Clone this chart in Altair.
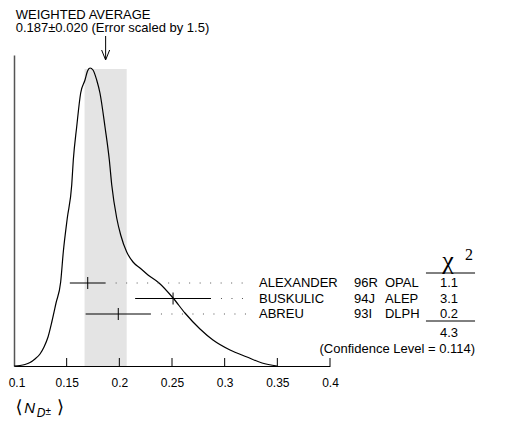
import altair as alt
import pandas as pd

# ---------------- data ----------------
avg_value = 0.187
avg_error = 0.020
title_lines = ["WEIGHTED AVERAGE", "0.187\u00b10.020 (Error scaled by 1.5)"]

names = ["ALEXANDER", "BUSKULIC", "ABREU"]
codes = ["96R", "94J", "93I"]
expts = ["OPAL", "ALEP", "DLPH"]
values = [0.170, 0.251, 0.199]
errors = [0.017, 0.036, 0.031]
chi2 = ["1.1", "3.1", "0.2"]
chi2_total = "4.3"
conf_text = "(Confidence Level = 0.114)"

# ideogram curve (x value, curve height)
curve_x = [0.1000, 0.1057, 0.1104, 0.1152, 0.1199, 0.1247, 0.1285, 0.1323, 0.1361,
           0.1399, 0.1443, 0.1468, 0.1506, 0.1548, 0.1563, 0.1595, 0.1633, 0.1674,
           0.1698, 0.1722, 0.1750, 0.1785, 0.1816, 0.1864, 0.1905, 0.1928, 0.1975,
           0.2013, 0.2070, 0.2130, 0.2196, 0.2272, 0.2377, 0.2510, 0.2623, 0.2766,
           0.2889, 0.3051, 0.3212, 0.3355, 0.3497]
curve_y = [0, 0.5, 1.5, 3.5, 7, 12, 19, 29, 45,
           63, 84, 114, 148, 181, 206, 239, 273, 286,
           295, 298, 296, 286, 273, 239, 206, 181, 148,
           131, 114, 104, 98, 91, 83, 68, 53, 37,
           26, 16, 9, 3, 0]

x_ticks = [0.1, 0.15, 0.2, 0.25, 0.3, 0.35, 0.4]

# ---------------- layout constants ----------------
FONT = "Liberation Sans"
ROW_Y = [83, 67.5, 52]
BAND_TOP = 297
X_NAME, X_CODE, X_EXPT, X_CHI = 0.3326, 0.4228, 0.4522, 0.5130
X_DOT_END = 0.326
CHI_L, CHI_R = 0.4911, 0.5377

XS = alt.Scale(domain=[0.1, 0.4], nice=False, zero=False)
YS = alt.Scale(domain=[0, 311], nice=False, zero=False)
XA = alt.Axis(values=x_ticks, format="~g", tickSize=0, labelPadding=11, labelFlush=False,
              labelOffset={"condition": {"test": "datum.value <= 0.1", "value": 2.5}, "value": 0},
              grid=False, title=None, domainColor="black", domainWidth=1,
              labelFont=FONT, labelFontSize=12, labelColor="black")
YA = alt.Axis(ticks=False, labels=False, grid=False, title=None,
              domainColor="#555555", domainWidth=1.5)


def X(f):
    return alt.X(f, type="quantitative", scale=XS, axis=XA)


def Y(f):
    return alt.Y(f, type="quantitative", scale=YS, axis=YA)


rows = pd.DataFrame({"name": names, "code": codes, "expt": expts, "val": values,
                     "err": errors, "chi": chi2, "ry": ROW_Y})
rows["lo"] = rows["val"] - rows["err"]
rows["hi"] = rows["val"] + rows["err"]
rows["dot0"] = rows["hi"] + 0.0095
rows["dot1"] = X_DOT_END
rows["t0"] = rows["ry"] - 6
rows["t1"] = rows["ry"] + 6
rows["xn"] = X_NAME
rows["xc"] = X_CODE
rows["xe"] = X_EXPT
rows["xchi"] = X_CHI

band = alt.Chart(pd.DataFrame({"lo": [avg_value - avg_error], "hi": [avg_value + avg_error],
                               "y0": [0], "y1": [BAND_TOP]})).mark_rect(color="#e4e4e4").encode(
    x=X("lo"), x2="hi", y=Y("y0"), y2="y1")

curve = alt.Chart(pd.DataFrame({"x": curve_x, "y": curve_y})).mark_line(
    color="black", strokeWidth=1.2, interpolate="monotone").encode(x=X("x"), y=Y("y"), order="x:Q")

ticks = alt.Chart(pd.DataFrame({"x": x_ticks[1:], "y0": 0, "y1": 8})).mark_rule(
    color="black", strokeWidth=1).encode(x=X("x"), y=Y("y0"), y2="y1")

ebar = alt.Chart(rows).mark_rule(color="black", strokeWidth=1).encode(x=X("lo"), x2="hi", y=Y("ry"))
ctick = alt.Chart(rows).mark_rule(color="black", strokeWidth=1).encode(x=X("val"), y=Y("t0"), y2="t1")
dots = alt.Chart(rows).mark_rule(color="#555555", strokeWidth=1, strokeDash=[1, 9.5]).encode(
    x=X("dot0"), x2="dot1", y=Y("ry"))

txt = dict(font=FONT, fontSize=13, color="black", baseline="middle")
t_name = alt.Chart(rows).mark_text(align="left", **txt).encode(x=X("xn"), y=Y("ry"), text="name")
t_code = alt.Chart(rows).mark_text(align="left", **txt).encode(x=X("xc"), y=Y("ry"), text="code")
t_expt = alt.Chart(rows).mark_text(align="left", **txt).encode(x=X("xe"), y=Y("ry"), text="expt")
t_chi = alt.Chart(rows).mark_text(align="center", **txt).encode(x=X("xchi"), y=Y("ry"), text="chi")

chi_lines = alt.Chart(pd.DataFrame({"x0": [CHI_L, CHI_L], "x1": [CHI_R, CHI_R], "y": [93, 45]})).mark_rule(
    color="black", strokeWidth=1).encode(x=X("x0"), x2="x1", y=Y("y"))

chi_sym = alt.Chart(pd.DataFrame({"x": [0.5120], "y": [97], "t": ["\u03c7"]})).mark_text(
    font="Liberation Serif", fontSize=26, color="black", align="center", baseline="alphabetic").encode(
    x=X("x"), y=Y("y"), text="t")
chi_sup = alt.Chart(pd.DataFrame({"x": [0.5320], "y": [106], "t": ["2"]})).mark_text(
    font="Liberation Serif", fontSize=16, color="black", align="center", baseline="alphabetic").encode(
    x=X("x"), y=Y("y"), text="t")

total = alt.Chart(pd.DataFrame({"x": [X_CHI], "y": [29], "t": [chi2_total]})).mark_text(
    font=FONT, fontSize=13, color="black", align="center", baseline="alphabetic").encode(
    x=X("x"), y=Y("y"), text="t")
conf = alt.Chart(pd.DataFrame({"x": [CHI_R], "y": [13], "t": [conf_text]})).mark_text(
    font=FONT, fontSize=13, color="black", align="right", baseline="alphabetic").encode(
    x=X("x"), y=Y("y"), text="t")

title = alt.Chart(pd.DataFrame({"x": [0.1016, 0.1016], "y": [347.5, 334], "t": title_lines})).mark_text(
    font=FONT, fontSize=13, color="black", align="left", baseline="alphabetic").encode(
    x=X("x"), y=Y("y"), text="t")

arrow = alt.Chart(pd.DataFrame({"x": [avg_value], "y0": [330], "y1": [307]})).mark_rule(
    color="black", strokeWidth=1).encode(x=X("x"), y=Y("y0"), y2="y1")
head = alt.Chart(pd.DataFrame({"x": [avg_value], "y": [306]})).mark_point(
    shape="M-0.4,-1L0,0L0.4,-1", size=400, filled=False, color="black", strokeWidth=1, opacity=1).encode(
    x=X("x"), y=Y("y"))

lab = pd.DataFrame({
    "x": [0.1047, 0.1097, 0.1215, 0.1300, 0.1441],
    "y": [-42, -47, -51, -49, -42],
    "t": ["\u27e8", "N", "D", "\u00b1", "\u27e9"],
})
lab_br = alt.Chart(lab.iloc[[0, 4]]).mark_text(
    font="DejaVu Sans", fontSize=18, color="black", align="center", baseline="middle").encode(
    x=X("x"), y=Y("y"), text="t")
lab_n = alt.Chart(lab.iloc[[1]]).mark_text(
    font=FONT, fontSize=15, fontStyle="italic", color="black", align="left", baseline="alphabetic").encode(
    x=X("x"), y=Y("y"), text="t")
lab_d = alt.Chart(lab.iloc[[2]]).mark_text(
    font=FONT, fontSize=12, fontStyle="italic", color="black", align="left", baseline="alphabetic").encode(
    x=X("x"), y=Y("y"), text="t")
lab_pm = alt.Chart(lab.iloc[[3]]).mark_text(
    font=FONT, fontSize=10, color="black", align="left", baseline="alphabetic").encode(
    x=X("x"), y=Y("y"), text="t")

chart = alt.layer(
    band, curve, ticks, ebar, ctick, dots, t_name, t_code, t_expt, t_chi, chi_lines,
    chi_sym, chi_sup, total, conf, title, arrow, head, lab_br, lab_n, lab_d, lab_pm
).properties(
    width=316, height=311,
    background="white",
    autosize=alt.AutoSizeParams(type="none"),
    padding={"left": 6, "top": 47, "right": 179, "bottom": 53},
).configure_view(strokeWidth=0, stroke="transparent")

chart.save("out.html", embed_options={"renderer": "svg", "actions": False})
